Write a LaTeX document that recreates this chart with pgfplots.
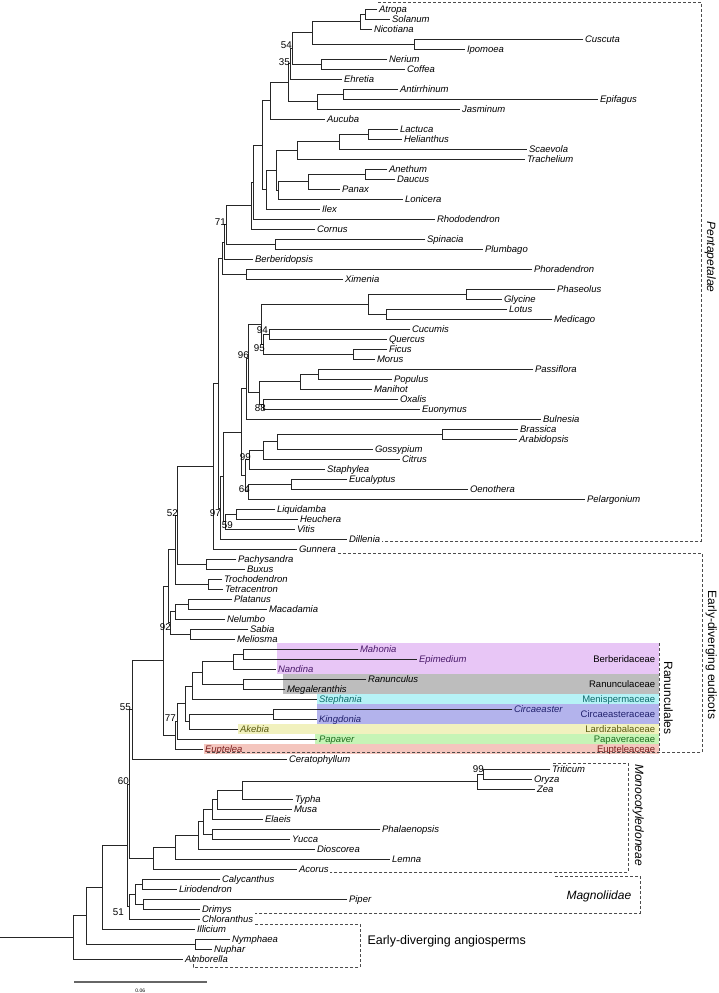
\documentclass[border=0pt]{standalone}
\usepackage{fontspec}
\setmainfont{Liberation Sans}
\usepackage{pgfplots}
\pgfplotsset{compat=1.18}
\definecolor{berb}{HTML}{E8C6F6}
\definecolor{ranu}{HTML}{BDBDBD}
\definecolor{meni}{HTML}{B6F2F6}
\definecolor{circ}{HTML}{B3B3EC}
\definecolor{lard}{HTML}{F1F1BE}
\definecolor{papa}{HTML}{C6F4B6}
\definecolor{eupt}{HTML}{F4C6BE}
\definecolor{tberb}{HTML}{4A1A6A}
\definecolor{tmeni}{HTML}{0E6B6B}
\definecolor{tcirc}{HTML}{22226E}
\definecolor{tlard}{HTML}{5A5A10}
\definecolor{tpapa}{HTML}{1E6E1E}
\definecolor{teupt}{HTML}{7A1E1E}
\tikzset{
  splab/.style={anchor=base west, inner sep=0pt, font=\fontsize{9.5}{10}\selectfont\itshape},
  bslab/.style={anchor=center, inner sep=0pt, font=\fontsize{9.8}{10}\selectfont},
  famlab/.style={anchor=base east, inner sep=0pt, font=\fontsize{9.5}{10}\selectfont},
}
\newcommand{\tip}[4][black]{\node[splab,text=#1] at (axis cs:#2+1.5,#3+3.4) {#4};}
\newcommand{\bs}[3]{\node[bslab] at (axis cs:#1,#2) {#3};}
\begin{document}
\begin{tikzpicture}
\begin{axis}[
  width=718pt, height=993pt, scale only axis,
  xmin=0, xmax=718, ymin=0, ymax=993, y dir=reverse,
  hide axis, clip=false,
]
\addplot[draw=none] coordinates {(0,0) (718,993)};
% coloured family bands
\addplot[fill=berb, draw=none] coordinates {(277,643) (659,643) (659,674) (277,674)} -- cycle;
\addplot[fill=ranu, draw=none] coordinates {(283,674) (659,674) (659,694) (283,694)} -- cycle;
\addplot[fill=meni, draw=none] coordinates {(317,694) (659,694) (659,704) (317,704)} -- cycle;
\addplot[fill=circ, draw=none] coordinates {(317,704) (659,704) (659,724) (317,724)} -- cycle;
\addplot[fill=lard, draw=none] coordinates {(238,724) (659,724) (659,734) (238,734)} -- cycle;
\addplot[fill=papa, draw=none] coordinates {(315,734) (659,734) (659,744) (315,744)} -- cycle;
\addplot[fill=eupt, draw=none] coordinates {(204,744) (659,744) (659,754) (204,754)} -- cycle;
% dashed clade boxes
\addplot[black!70, line width=0.7pt, dash pattern=on 3pt off 2pt] coordinates {(378,2) (701,2) (701,541) (382,541)};
\addplot[black!70, line width=0.7pt, dash pattern=on 3pt off 2pt] coordinates {(338,553) (702,553) (702,752) (207,752)};
\addplot[black!70, line width=0.7pt, dash pattern=on 3pt off 2pt] coordinates {(659,643) (659,752)};
\addplot[black!70, line width=0.7pt, dash pattern=on 3pt off 2pt] coordinates {(553,763) (628,763) (628,872) (330,872)};
\addplot[black!70, line width=0.7pt, dash pattern=on 3pt off 2pt] coordinates {(555,876) (640,876) (640,913) (255,913)};
\addplot[black!70, line width=0.7pt, dash pattern=on 3pt off 2pt] coordinates {(255,924) (360,924) (360,967) (193,967) (193,955)};
% tree
\addplot[black!85, line width=0.65pt, unbounded coords=jump] coordinates {
(377,9) (365,9) (365,19) (390,19) (nan,nan)
(365,14) (360,14) (360,29) (372,29) (nan,nan)
(583,39) (414,39) (414,49) (465,49) (nan,nan)
(360,21.5) (312,21.5) (312,44) (414,44) (nan,nan)
(387,59) (321,59) (321,69) (405,69) (nan,nan)
(312,32.75) (292,32.75) (292,64) (321,64) (nan,nan)
(292,48.4) (290,48.4) (290,79) (342,79) (nan,nan)
(398,89) (343,89) (343,99) (598,99) (nan,nan)
(343,94) (317,94) (317,109) (460,109) (nan,nan)
(290,63.7) (288,63.7) (288,101.5) (317,101.5) (nan,nan)
(288,82.6) (270,82.6) (270,119) (325,119) (nan,nan)
(398,129) (368,129) (368,139) (402,139) (nan,nan)
(368,134) (339,134) (339,149) (527,149) (nan,nan)
(339,141.5) (297,141.5) (297,159) (525,159) (nan,nan)
(387,169) (365,169) (365,179) (395,179) (nan,nan)
(365,174) (308,174) (308,189) (340,189) (nan,nan)
(308,181.5) (278,181.5) (278,199) (403,199) (nan,nan)
(297,150.2) (276,150.2) (276,190.2) (278,190.2) (nan,nan)
(276,170.2) (266,170.2) (266,209) (320,209) (nan,nan)
(270,100.8) (262,100.8) (262,189.6) (266,189.6) (nan,nan)
(262,145.2) (253,145.2) (253,219) (435,219) (nan,nan)
(253,182.1) (251,182.1) (251,229) (315,229) (nan,nan)
(425,239) (275,239) (275,249) (483,249) (nan,nan)
(251,205.5) (226,205.5) (226,244) (275,244) (nan,nan)
(226,224.8) (224,224.8) (224,259) (253,259) (nan,nan)
(532,269) (246,269) (246,279) (343,279) (nan,nan)
(224,241.9) (222,241.9) (222,274) (246,274) (nan,nan)
(555,289) (466,289) (466,299) (502,299) (nan,nan)
(507,309) (386,309) (386,319) (552,319) (nan,nan)
(466,294) (368,294) (368,314) (386,314) (nan,nan)
(410,329) (269,329) (269,339) (387,339) (nan,nan)
(387,349) (353,349) (353,359) (375,359) (nan,nan)
(269,334) (263,334) (263,354) (353,354) (nan,nan)
(368,304) (261,304) (261,344) (263,344) (nan,nan)
(533,369) (318,369) (318,379) (392,379) (nan,nan)
(318,374) (300,374) (300,389) (372,389) (nan,nan)
(398,399) (263,399) (263,409) (420,409) (nan,nan)
(300,381.5) (259,381.5) (259,404) (263,404) (nan,nan)
(261,324) (248,324) (248,392.8) (259,392.8) (nan,nan)
(248,358.4) (246,358.4) (246,419) (541,419) (nan,nan)
(518,429) (442,429) (442,439) (517,439) (nan,nan)
(442,434) (277,434) (277,449) (373,449) (nan,nan)
(277,441.5) (263,441.5) (263,459) (400,459) (nan,nan)
(263,450.2) (249,450.2) (249,469) (325,469) (nan,nan)
(347,479) (291,479) (291,489) (468,489) (nan,nan)
(291,484) (248,484) (248,499) (585,499) (nan,nan)
(249,459.6) (245,459.6) (245,491.5) (248,491.5) (nan,nan)
(246,388.7) (241,388.7) (241,475.6) (245,475.6) (nan,nan)
(275,509) (236,509) (236,519) (298,519) (nan,nan)
(236,514) (225,514) (225,529) (295,529) (nan,nan)
(241,432.1) (223,432.1) (223,521.5) (225,521.5) (nan,nan)
(223,476.8) (220,476.8) (220,539) (347,539) (nan,nan)
(222,258) (218,258) (218,507.9) (220,507.9) (nan,nan)
(218,383) (213,383) (213,549) (297,549) (nan,nan)
(236,559) (206,559) (206,569) (245,569) (nan,nan)
(213,466) (177,466) (177,564) (206,564) (nan,nan)
(222,579) (208,579) (208,589) (223,589) (nan,nan)
(177,515) (175,515) (175,584) (208,584) (nan,nan)
(232,599) (188,599) (188,609) (267,609) (nan,nan)
(188,604) (175,604) (175,619) (225,619) (nan,nan)
(248,629) (190,629) (190,639) (235,639) (nan,nan)
(175,611.5) (170,611.5) (170,634) (190,634) (nan,nan)
(175,549.5) (168,549.5) (168,622.8) (170,622.8) (nan,nan)
(358,649) (243,649) (243,659) (417,659) (nan,nan)
(243,654) (233,654) (233,669) (276,669) (nan,nan)
(366,679) (243,679) (243,689) (285,689) (nan,nan)
(233,661.5) (202,661.5) (202,684) (243,684) (nan,nan)
(202,672.8) (192,672.8) (192,699) (317,699) (nan,nan)
(512,709) (273,709) (273,719) (317,719) (nan,nan)
(273,714) (189,714) (189,729) (238,729) (nan,nan)
(192,685.9) (185,685.9) (185,721.5) (189,721.5) (nan,nan)
(185,703.7) (177,703.7) (177,739) (317,739) (nan,nan)
(177,721.4) (175,721.4) (175,749) (203,749) (nan,nan)
(168,586.1) (163,586.1) (163,735.2) (175,735.2) (nan,nan)
(163,660.6) (132,660.6) (132,759) (287,759) (nan,nan)
(550,769) (483,769) (483,779) (532,779) (nan,nan)
(483,774) (477,774) (477,789) (535,789) (nan,nan)
(477,781.5) (242,781.5) (242,799) (293,799) (nan,nan)
(242,790.2) (217,790.2) (217,809) (292,809) (nan,nan)
(217,799.6) (212,799.6) (212,819) (263,819) (nan,nan)
(380,829) (212,829) (212,839) (290,839) (nan,nan)
(212,809.3) (203,809.3) (203,834) (212,834) (nan,nan)
(203,821.7) (198,821.7) (198,849) (315,849) (nan,nan)
(198,835.3) (175,835.3) (175,859) (390,859) (nan,nan)
(175,847.2) (153,847.2) (153,869) (297,869) (nan,nan)
(132,709.8) (129,709.8) (129,858.1) (153,858.1) (nan,nan)
(220,879) (142,879) (142,889) (177,889) (nan,nan)
(347,899) (143,899) (143,909) (200,909) (nan,nan)
(142,884) (135,884) (135,904) (143,904) (nan,nan)
(135,894) (129,894) (129,919) (200,919) (nan,nan)
(129,784) (127,784) (127,906.5) (129,906.5) (nan,nan)
(127,845.2) (102,845.2) (102,929) (195,929) (nan,nan)
(230,939) (195,939) (195,949) (212,949) (nan,nan)
(102,887.1) (86,887.1) (86,944) (195,944) (nan,nan)
(86,915.5) (73,915.5) (73,959) (183,959) (nan,nan)
(0,937.3) (73,937.3)
};
% scale bar
\addplot[black!60, line width=1.3pt] coordinates {(74,982) (207,982)};
\node[font=\fontsize{5}{6}\selectfont, inner sep=0pt] at (axis cs:140,991) {0.06};
% species labels
\tip{377}{9}{Atropa}
\tip{390}{19}{Solanum}
\tip{372}{29}{Nicotiana}
\tip{583}{39}{Cuscuta}
\tip{465}{49}{Ipomoea}
\tip{387}{59}{Nerium}
\tip{405}{69}{Coffea}
\tip{342}{79}{Ehretia}
\tip{398}{89}{Antirrhinum}
\tip{598}{99}{Epifagus}
\tip{460}{109}{Jasminum}
\tip{325}{119}{Aucuba}
\tip{398}{129}{Lactuca}
\tip{402}{139}{Helianthus}
\tip{527}{149}{Scaevola}
\tip{525}{159}{Trachelium}
\tip{387}{169}{Anethum}
\tip{395}{179}{Daucus}
\tip{340}{189}{Panax}
\tip{403}{199}{Lonicera}
\tip{320}{209}{Ilex}
\tip{435}{219}{Rhododendron}
\tip{315}{229}{Cornus}
\tip{425}{239}{Spinacia}
\tip{483}{249}{Plumbago}
\tip{253}{259}{Berberidopsis}
\tip{532}{269}{Phoradendron}
\tip{343}{279}{Ximenia}
\tip{555}{289}{Phaseolus}
\tip{502}{299}{Glycine}
\tip{507}{309}{Lotus}
\tip{552}{319}{Medicago}
\tip{410}{329}{Cucumis}
\tip{387}{339}{Quercus}
\tip{387}{349}{Ficus}
\tip{375}{359}{Morus}
\tip{533}{369}{Passiflora}
\tip{392}{379}{Populus}
\tip{372}{389}{Manihot}
\tip{398}{399}{Oxalis}
\tip{420}{409}{Euonymus}
\tip{541}{419}{Bulnesia}
\tip{518}{429}{Brassica}
\tip{517}{439}{Arabidopsis}
\tip{373}{449}{Gossypium}
\tip{400}{459}{Citrus}
\tip{325}{469}{Staphylea}
\tip{347}{479}{Eucalyptus}
\tip{468}{489}{Oenothera}
\tip{585}{499}{Pelargonium}
\tip{275}{509}{Liquidamba}
\tip{298}{519}{Heuchera}
\tip{295}{529}{Vitis}
\tip{347}{539}{Dillenia}
\tip{297}{549}{Gunnera}
\tip{236}{559}{Pachysandra}
\tip{245}{569}{Buxus}
\tip{222}{579}{Trochodendron}
\tip{223}{589}{Tetracentron}
\tip{232}{599}{Platanus}
\tip{267}{609}{Macadamia}
\tip{225}{619}{Nelumbo}
\tip{248}{629}{Sabia}
\tip{235}{639}{Meliosma}
\tip[tberb]{358}{649}{Mahonia}
\tip[tberb]{417}{659}{Epimedium}
\tip[tberb]{276}{669}{Nandina}
\tip{366}{679}{Ranunculus}
\tip{285}{689}{Megaleranthis}
\tip[tmeni]{317}{699}{Stephania}
\tip[tcirc]{512}{709}{Circaeaster}
\tip[tcirc]{317}{719}{Kingdonia}
\tip[tlard]{238}{729}{Akebia}
\tip[tpapa]{317}{739}{Papaver}
\tip[teupt]{203}{749}{Euptelea}
\tip{287}{759}{Ceratophyllum}
\tip{550}{769}{Triticum}
\tip{532}{779}{Oryza}
\tip{535}{789}{Zea}
\tip{293}{799}{Typha}
\tip{292}{809}{Musa}
\tip{263}{819}{Elaeis}
\tip{380}{829}{Phalaenopsis}
\tip{290}{839}{Yucca}
\tip{315}{849}{Dioscorea}
\tip{390}{859}{Lemna}
\tip{297}{869}{Acorus}
\tip{220}{879}{Calycanthus}
\tip{177}{889}{Liriodendron}
\tip{347}{899}{Piper}
\tip{200}{909}{Drimys}
\tip{200}{919}{Chloranthus}
\tip{195}{929}{Illicium}
\tip{230}{939}{Nymphaea}
\tip{212}{949}{Nuphar}
\tip{183}{959}{Amborella}
% family labels
\node[famlab] at (axis cs:655,662) {Berberidaceae};
\node[famlab] at (axis cs:655,687) {Ranunculaceae};
\node[famlab, text=tmeni] at (axis cs:655,702.5) {Menispermaceae};
\node[famlab, text=tcirc] at (axis cs:655,717.5) {Circaeasteraceae};
\node[famlab, text=tlard] at (axis cs:655,732.5) {Lardizabalaceae};
\node[famlab, text=tpapa] at (axis cs:655,742.5) {Papaveraceae};
\node[famlab, text=teupt] at (axis cs:655,752) {Eupteleaceae};
% bootstrap values
\bs{286}{45}{54}
\bs{284}{62}{35}
\bs{220}{222}{71}
\bs{262}{330}{94}
\bs{259}{348}{95}
\bs{243}{355}{96}
\bs{260}{408}{88}
\bs{245}{457}{99}
\bs{244}{489}{64}
\bs{172}{513}{52}
\bs{215}{513}{97}
\bs{227}{525}{59}
\bs{165}{627}{92}
\bs{170}{718}{77}
\bs{125}{707}{55}
\bs{123}{781}{60}
\bs{118}{912}{51}
\bs{478}{769}{99}
% clade names
\node[rotate=-90, inner sep=0pt, font=\fontsize{12}{14}\selectfont\itshape] at (axis cs:710,257) {Pentapetalae};
\node[rotate=-90, inner sep=0pt, font=\fontsize{12}{14}\selectfont] at (axis cs:711,655) {Early-diverging eudicots};
\node[rotate=-90, inner sep=0pt, font=\fontsize{12}{14}\selectfont] at (axis cs:668,698) {Ranunculales};
\node[rotate=-90, inner sep=0pt, font=\fontsize{12}{14}\selectfont\itshape] at (axis cs:638,815) {Monocotyledoneae};
\node[anchor=base west, inner sep=0pt, font=\fontsize{12}{14}\selectfont\itshape] at (axis cs:566,899) {Magnoliidae};
\node[anchor=base west, inner sep=0pt, font=\fontsize{12.5}{14}\selectfont] at (axis cs:367,944) {Early-diverging angiosperms};
\end{axis}
\end{tikzpicture}
\end{document}
